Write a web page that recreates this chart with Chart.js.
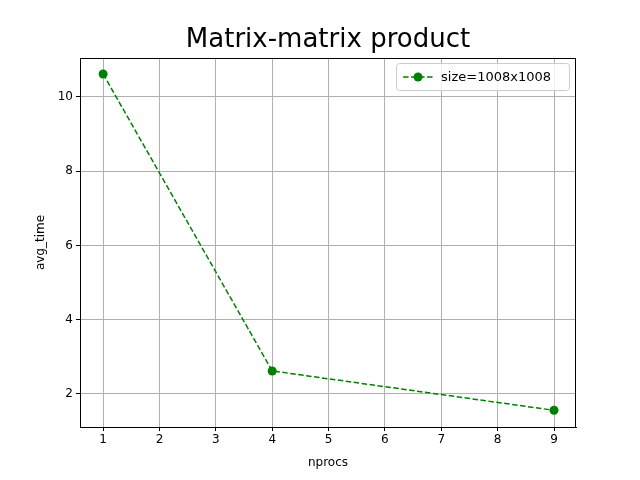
<!DOCTYPE html>
<html><head><script src="https://cdn.jsdelivr.net/npm/chart.js@4"></script>
<style>html,body{margin:0;background:#fff}</style></head>
<body><canvas id="c" width="640" height="480" style="width:640px;height:480px"></canvas>
<script>
const nprocs=[1,4,9];
const avgTime=[10.62,2.62,1.56];
const xTicks=[1,2,3,4,5,6,7,8,9];
const yTicks=[2,4,6,8,10];
const seriesLabel='size=1008x1008';
const titleText='Matrix-matrix product';
const xTitle='nprocs', yTitle='avg_time';
const F='"DejaVu Sans"';
const deco={id:'deco',afterDraw(ch){const c=ch.ctx,a=ch.chartArea;c.save();
c.strokeStyle='#000';c.lineWidth=1;c.strokeRect(Math.round(a.left)+0.5,Math.round(a.top)+0.5,Math.round(a.right-a.left)-1,Math.round(a.bottom-a.top));
c.fillStyle='#000';c.textAlign='center';c.textBaseline='middle';
c.font='26px '+F;c.fillText(titleText,(a.left+a.right)/2,40);
c.font='12px '+F;c.fillText(xTitle,(a.left+a.right)/2,463);
c.translate(41,(a.top+a.bottom)/2);c.rotate(-Math.PI/2);c.fillText(yTitle,0,0);c.restore();
c.save();c.font='13px '+F;const w=c.measureText(seriesLabel).width;const bw=w+63,bh=27;
const x=a.right-7-bw,y=a.top+5;
c.fillStyle='rgba(255,255,255,0.8)';c.strokeStyle='#ccc';c.lineWidth=1;
c.beginPath();c.roundRect(x+0.5,y+0.5,bw,bh,3);c.fill();c.stroke();
c.strokeStyle='green';c.lineWidth=1.5;c.setLineDash([5.5,2.5]);c.beginPath();c.moveTo(x+7,y+14);c.lineTo(x+37,y+14);c.stroke();c.setLineDash([]);
c.fillStyle='green';c.beginPath();c.arc(x+22,y+14,4.5,0,Math.PI*2);c.fill();
c.fillStyle='#000';c.textBaseline='middle';c.fillText(seriesLabel,x+45,y+14.5);c.restore();}};
new Chart(document.getElementById('c'),{type:'line',
data:{datasets:[{label:seriesLabel,data:nprocs.map((v,i)=>({x:v,y:avgTime[i]})),borderColor:'green',backgroundColor:'green',borderDash:[5.5,2.5],borderWidth:1.5,pointRadius:4.5,pointBackgroundColor:'green',pointBorderWidth:0}]},
options:{responsive:false,animation:false,devicePixelRatio:1,
layout:{padding:{right:64,left:0,bottom:0,top:58}},
plugins:{legend:{display:false},tooltip:{enabled:false},title:{display:false}},
scales:{
x:{type:'linear',min:0.59,max:9.39,afterBuildTicks:s=>{s.ticks=xTicks.map(v=>({value:v}))},afterFit:s=>{s.height=53},
grid:{color:'#b0b0b0',tickColor:'#000',tickLength:4},border:{color:'#000'},
ticks:{color:'#000',font:{family:F,size:12},padding:2}},
y:{min:1.11,max:11.05,afterBuildTicks:s=>{s.ticks=yTicks.map(v=>({value:v}))},afterFit:s=>{s.width=80},
grid:{color:'#b0b0b0',tickColor:'#000',tickLength:4},border:{color:'#000'},
ticks:{color:'#000',font:{family:F,size:12},padding:3}}}},
plugins:[deco]});
</script></body></html>
